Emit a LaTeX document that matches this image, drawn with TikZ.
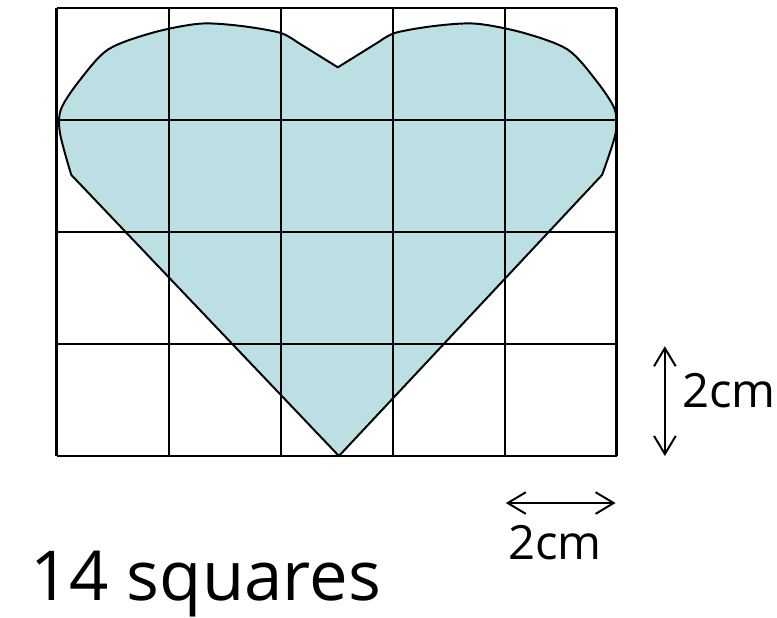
\documentclass[tikz,border=0pt]{standalone}
\usepackage{fontspec}
\setmainfont{Open Sans}
\usetikzlibrary{arrows.meta}
\definecolor{heartfill}{RGB}{187,223,227}

\begin{document}
\begin{tikzpicture}[
  x=1cm, y=1cm,
  grid line/.style={black, line width=0.6pt},
  heart/.style={draw=black, fill=heartfill, line width=0.5pt, line join=round},
  dim/.style={{Straight Barb[length=4.6pt,width=5.5pt]}-{Straight Barb[length=4.6pt,width=5.5pt]}, line width=0.5pt},
  size label/.style={font=\fontsize{12}{14}\selectfont, inner sep=0pt},
  count label/.style={font=\fontsize{17.5}{20}\selectfont, inner sep=0pt}
]
  \useasboundingbox (-0.506,-1.446) rectangle (6.431,4.071);

  % heart shape
  \path[heart] (2.52,0) -- (0.13,2.51)
    -- plot[smooth] coordinates {(0.13,2.51) (0.03,2.88) (0.04,3.1) (0.21,3.36) (0.46,3.63) (0.86,3.78) (1.28,3.86) (1.64,3.84) (1.99,3.78) (2.14,3.70)}
    -- (2.51,3.47) -- (2.88,3.70)
    -- plot[smooth] coordinates {(2.88,3.70) (3.03,3.78) (3.38,3.84) (3.74,3.86) (4.16,3.78) (4.56,3.63) (4.81,3.36) (4.98,3.1) (4.99,2.88) (4.87,2.51)}
    -- cycle;

  % grid of 2cm squares
  \draw[grid line] (0,0) grid (5,4);

  % dimension arrows
  \coordinate (vtop) at (5.43,0.98);
  \coordinate (vbot) at (5.43,0);
  \coordinate (hleft) at (4.01,-0.42);
  \coordinate (hright) at (4.99,-0.42);
  \draw[dim] (vtop) -- (vbot);
  \draw[dim] (hleft) -- (hright);

  \node[size label, anchor=base] (sidelabel) at (6.0,0.43) {2cm};
  \node[size label, anchor=base] (baselabel) at (4.45,-0.92) {2cm};
  \node[count label, anchor=base] (count) at (1.33,-1.29) {14 squares};
\end{tikzpicture}
\end{document}
